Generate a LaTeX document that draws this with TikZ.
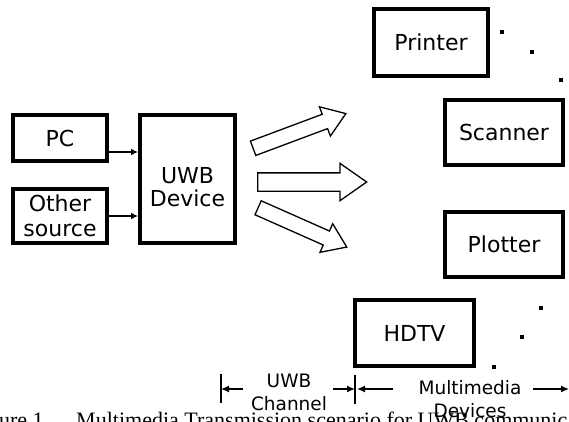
\documentclass[tikz,border=0pt]{standalone}
\usepackage{fontspec}
\setmainfont{DejaVu Sans}
\newfontfamily\capfont{Liberation Serif}
\usetikzlibrary{arrows.meta,positioning,shapes.arrows}

\begin{document}
\begin{tikzpicture}[x=1pt,y=-1pt,
  blk/.style={draw,line width=4pt,align=center,inner sep=0pt,font=\fontsize{22}{25}\selectfont},
  dev/.style={blk,minimum width=118pt,minimum height=65pt},
  wide/.style={draw,single arrow,line width=1.3pt,anchor=tail,inner xsep=0pt,inner ysep=8.5pt,single arrow head extend=9.5pt,single arrow tip angle=70},
  slim/.style={wide,inner ysep=7pt,single arrow head extend=8pt},
  conn/.style={-{Latex[length=7pt,width=7pt]},line width=1.4pt},
  dim/.style={-{Latex[length=8pt,width=7pt]},line width=1.4pt},
  tick/.style={line width=1.6pt},
  lbl/.style={align=center,inner sep=0pt,font=\fontsize{18.5}{23}\selectfont},
  dot/.style={fill,inner sep=0pt,minimum size=3.5pt}
]
\useasboundingbox (0,0) rectangle (569,421);
\clip (0,0) rectangle (569,421);

% caption line, cut off by the page edge
\node[anchor=base west,inner sep=0pt,font=\capfont\fontsize{22}{24}\selectfont] (cap) at (-30.4,427)
  {Figure 1.\hspace{27pt}Multimedia Transmission scenario for UWB communications};

% sources and the UWB device
\node[blk,minimum width=94pt,minimum height=46pt] (pc) at (60,138) {PC};
\node[blk,minimum width=94pt,minimum height=54pt,below=24pt of pc] (other) {Other\\source};
\node[blk,minimum width=95pt,minimum height=128pt,font=\fontsize{22}{23}\selectfont] (uwb) at (187.5,179)
  {\rule{0pt}{32pt}UWB\\Device};
\draw[conn] ([yshift=-14pt]pc.east) -- ([yshift=-14pt]pc.east -| uwb.west);
\draw[conn] (other.east) -- (other.east -| uwb.west);

% transmission arrows
\node[slim,minimum height=99pt,rotate=20.5] (arrUp) at (252.5,148.5) {};
\node[wide,minimum height=109pt] (arrMid) at (257,182) {};
\node[slim,minimum height=97pt,rotate=-23.9] (arrDn) at (257.5,207.5) {};

% multimedia devices
\node[blk,minimum width=114pt,minimum height=67pt] (printer) at (431,42.5) {Printer};
\node[dev] (scanner) at (504,132.5) {Scanner};
\node[dev,below=43pt of scanner] (plotter) {Plotter};
\node[dev,minimum width=119pt,minimum height=66pt] (hdtv) at (414.5,333) {HDTV};

\node[dot] (p1) at (502,32) {};
\node[dot] (p2) at (532,52) {};
\node[dot] (p3) at (561,80) {};
\node[dot] (h1) at (541,308) {};
\node[dot] (h2) at (522,337) {};
\node[dot] (h3) at (494,367) {};

% ranges along the bottom
\coordinate (barA) at (221,389);
\coordinate (barB) at (355,389);
\coordinate (chanR) at (333,389);
\coordinate (chanL) at (243,389);
\coordinate (mmL) at (393,389);
\coordinate (mmR) at (533,389);
\coordinate (edge) at (569,389);
\draw[tick] ([yshift=15pt]barA) -- ([yshift=-14pt]barA);
\draw[tick] ([yshift=14pt]barB) -- ([yshift=-15pt]barB);
\draw[dim] (chanL) -- (barA);
\draw[dim] (chanR) -- (barB);
\draw[dim] (mmL) -- ([xshift=2pt]barB);
\draw[dim] (mmR) -- (edge);
\node[lbl] (chan) at (289,392) {UWB\\Channel};
\node[lbl] (mmd) at (470,399) {Multimedia\\Devices};
\end{tikzpicture}
\end{document}
